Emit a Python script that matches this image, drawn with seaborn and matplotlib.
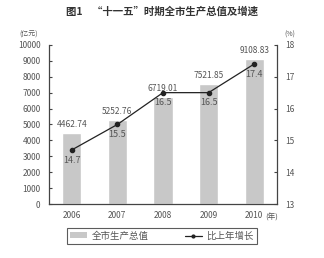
import matplotlib
matplotlib.use("Agg")
import matplotlib.pyplot as plt
import seaborn as sns
import numpy as np
import pandas as pd
from matplotlib.patches import Patch
from matplotlib.lines import Line2D

years = ["2006", "2007", "2008", "2009", "2010"]
gdp = [4462.74, 5252.76, 6719.01, 7521.85, 9108.83]
growth = [14.7, 15.5, 16.5, 16.5, 17.4]
gdp_labels = ["4462.74", "5252.76", "6719.01", "7521.85", "9108.83"]
growth_labels = ["14.7", "15.5", "16.5", "16.5", "17.4"]
left_ticks = [0, 1000, 2000, 3000, 4000, 5000, 6000, 7000, 8000, 9000, 10000]
left_ticklabels = ["0", "1000", "2000", "3000", "4000", "5000", "6000", "7000", "8000", "9000", "10000"]
right_ticks = [13, 14, 15, 16, 17, 18]

sns.set_style("white")
plt.rcParams['font.family'] = ['Noto Sans CJK SC', 'DejaVu Sans']

df = pd.DataFrame({"year": years, "gdp": gdp})
fig = plt.figure(figsize=(3.24, 2.58), dpi=100)
ax = fig.add_axes([0.151, 0.209, 0.704, 0.617])
sns.barplot(data=df, x="year", y="gdp", color="#c8c8c8", saturation=1, width=0.42, ax=ax)
ax.set_xlim(-0.5, 4.5)
ax.set_ylim(0, 10000)
ax.set_yticks(left_ticks)
ax.set_yticklabels(left_ticklabels)
ax.set_xlabel("")
ax.set_ylabel("")
txtc = "#555555"
ax.tick_params(axis="y", direction="in", length=2.5, width=0.8, colors="#444444", labelcolor=txtc, labelsize=6, pad=6)
ax.tick_params(axis="x", length=0, labelcolor=txtc, labelsize=6, pad=5)
for s in ["left", "bottom"]:
    ax.spines[s].set_color("#444444")
    ax.spines[s].set_linewidth(0.9)
ax.spines["top"].set_visible(False)
ax.spines["right"].set_visible(False)

for i, (v, lab) in enumerate(zip(gdp, gdp_labels)):
    ax.annotate(lab, (i, v), xytext=(0, 3), textcoords="offset points",
                ha="center", va="bottom", fontsize=6, color=txtc)

ax2 = ax.twinx()
xs = np.arange(len(years))
ax2.plot(xs, growth, color="#222222", lw=0.9, marker="o", ms=3)
ax2.set_ylim(13, 18)
ax2.set_yticks(right_ticks)
ax2.tick_params(axis="y", direction="in", length=2.5, width=0.8, colors="#444444", labelcolor=txtc, labelsize=6, pad=6)
ax2.spines["right"].set_color("#444444")
ax2.spines["right"].set_linewidth(0.9)
for s in ["top", "left", "bottom"]:
    ax2.spines[s].set_visible(False)
for i, (v, lab) in enumerate(zip(growth, growth_labels)):
    ax2.annotate(lab, (i, v), xytext=(0, -4), textcoords="offset points",
                 ha="center", va="top", fontsize=6.5, color=txtc)

fig.text(0.5, 0.955, "图1    “十一五”时期全市生产总值及增速", ha="center", va="center",
         fontsize=7.5, fontweight="bold", color="#333333")
fig.text(0.088, 0.865, "(亿元)", ha="center", va="center", fontsize=5, color=txtc)
fig.text(0.895, 0.865, "(%)", ha="center", va="center", fontsize=5, color=txtc)
fig.text(0.84, 0.158, "(年)", ha="center", va="center", fontsize=5.5, color=txtc)

handles = [Patch(facecolor="#c8c8c8", edgecolor="none"),
           Line2D([0], [0], color="#222222", lw=0.9, marker="o", ms=2)]
leg = fig.legend(handles, ["全市生产总值", "比上年增长"], loc="center", bbox_to_anchor=(0.5, 0.085),
                 ncol=2, fontsize=6.8, frameon=True, fancybox=False, edgecolor="#333333",
                 handlelength=1.8, handleheight=0.6, handletextpad=0.5, columnspacing=3.8, borderpad=0.35,
                 labelcolor=txtc)
leg.get_frame().set_linewidth(0.8)

fig.savefig("out.png", dpi=100)
